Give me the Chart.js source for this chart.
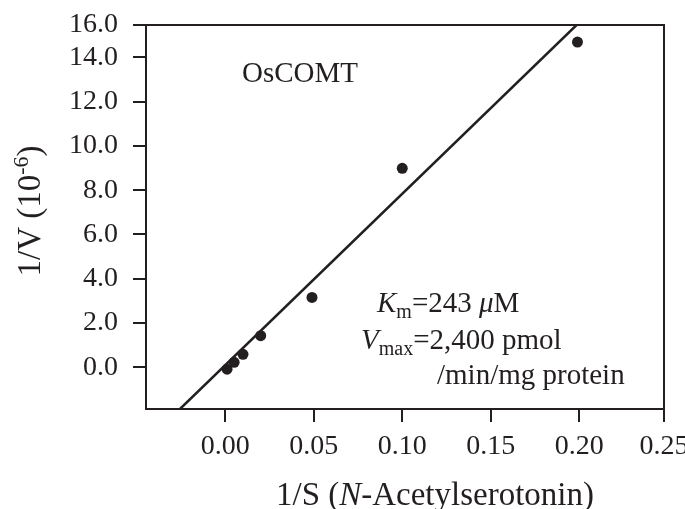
<!doctype html>
<html lang="en">
<head>
<meta charset="utf-8">
<title>OsCOMT Lineweaver-Burk</title>
<script src="https://cdn.jsdelivr.net/npm/chart.js"></script>
<style>
  html, body { margin: 0; padding: 0; background: #fff; }
  #wrap { width: 685px; height: 509px; }
</style>
</head>
<body>
<div id="wrap"><canvas id="lbChart" width="685" height="509"></canvas></div>
<script>
// measured points (1/S, 1/V)
const invS = [0.001, 0.005, 0.010, 0.020, 0.049, 0.100, 0.199];
const invV = [-0.08, 0.23, 0.59, 1.43, 3.16, 8.99, 14.69];

// fitted line, where it meets the frame
const fitX = [-0.0256, 0.1985];
const fitY = [-1.88, 15.46];

// axis ranges and ticks (the top / right ticks sit on the frame edge)
const xMin = -0.0448, xMax = 0.2479;
const yMin = -1.88, yMax = 15.46;
const xTickValues = [0, 0.05, 0.10, 0.15, 0.20, xMax];
const xTickLabels = ['0.00', '0.05', '0.10', '0.15', '0.20', '0.25'];
const yTickValues = [0, 2, 4, 6, 8, 10, 12, 14, yMax];
const yTickLabels = ['0.0', '2.0', '4.0', '6.0', '8.0', '10.0', '12.0', '14.0', '16.0'];

const ink = '#231f20';
const serif = '"Liberation Serif", "Times New Roman", serif';

// draw a run of differently styled pieces, left to right
function drawRuns(ctx, x, y, runs, align) {
    let total = 0;
    runs.forEach(r => { ctx.font = r.font; total += ctx.measureText(r.t).width; });
    let cx = align === 'center' ? x - total / 2 : x;
    runs.forEach(r => {
        ctx.font = r.font;
        ctx.fillText(r.t, cx, y + (r.dy || 0));
        cx += ctx.measureText(r.t).width;
    });
}

const textPlugin = {
    id: 'textPlugin',
    afterDraw(chart) {
        const ctx = chart.ctx;
        const a = chart.chartArea;
        ctx.save();
        // frame
        ctx.strokeStyle = ink;
        ctx.lineWidth = 2;
        ctx.strokeRect(a.left, a.top, a.right - a.left, a.bottom - a.top);

        ctx.fillStyle = ink;
        ctx.textBaseline = 'alphabetic';
        const big = '33px ' + serif;
        const mid = '29px ' + serif;
        const ital = 'italic 29px ' + serif;
        const sub = '20px ' + serif;

        // x title
        drawRuns(ctx, 435, 505, [
            { t: '1/S (', font: big },
            { t: 'N', font: 'italic 33px ' + serif },
            { t: '-Acetylserotonin)', font: big }
        ], 'center');

        // y title
        ctx.save();
        ctx.translate(40, 211);
        ctx.rotate(-Math.PI / 2);
        drawRuns(ctx, 0, 0, [
            { t: '1/V (10', font: big },
            { t: '-6', font: '22px ' + serif, dy: -12 },
            { t: ')', font: big }
        ], 'center');
        ctx.restore();

        // annotations
        drawRuns(ctx, 242, 82, [{ t: 'OsCOMT', font: mid }]);
        drawRuns(ctx, 377, 312, [
            { t: 'K', font: ital },
            { t: 'm', font: sub, dy: 6 },
            { t: '=243 ', font: mid },
            { t: 'μ', font: ital },
            { t: 'M', font: mid }
        ]);
        drawRuns(ctx, 361, 349, [
            { t: 'V', font: ital },
            { t: 'max', font: sub, dy: 6 },
            { t: '=2,400 pmol', font: mid }
        ]);
        drawRuns(ctx, 437, 384, [{ t: '/min/mg protein', font: mid }]);
        ctx.restore();
    }
};

const tickFont = { family: serif, size: 28 };

new Chart(document.getElementById('lbChart'), {
    type: 'scatter',
    data: {
        datasets: [
            {
                label: 'fit',
                data: fitX.map((x, i) => ({ x: x, y: fitY[i] })),
                showLine: true,
                borderColor: ink,
                borderWidth: 2.5,
                pointRadius: 0,
                fill: false
            },
            {
                label: 'OsCOMT',
                data: invS.map((x, i) => ({ x: x, y: invV[i] })),
                pointRadius: 5.5,
                pointBackgroundColor: ink,
                pointBorderWidth: 0,
                showLine: false
            }
        ]
    },
    options: {
        responsive: false,
        animation: false,
        layout: { padding: { left: 0, top: 25, right: 21, bottom: 0 } },
        plugins: { legend: { display: false }, tooltip: { enabled: false } },
        scales: {
            x: {
                type: 'linear',
                min: xMin,
                max: xMax,
                afterBuildTicks: axis => { axis.ticks = xTickValues.map(v => ({ value: v })); },
                afterFit: axis => { axis.height = 100; axis.paddingLeft = 0; axis.paddingRight = 0; },
                ticks: {
                    font: tickFont,
                    color: ink,
                    padding: 8,
                    maxRotation: 0,
                    autoSkip: false,
                    callback: (v, i) => xTickLabels[i]
                },
                grid: { drawOnChartArea: false, drawTicks: true, tickLength: 13, color: ink, lineWidth: 2 },
                border: { display: true, color: ink, width: 2 }
            },
            y: {
                type: 'linear',
                min: yMin,
                max: yMax,
                afterBuildTicks: axis => { axis.ticks = yTickValues.map(v => ({ value: v })); },
                afterFit: axis => { axis.width = 146; axis.paddingTop = 0; axis.paddingBottom = 0; },
                ticks: {
                    font: tickFont,
                    color: ink,
                    padding: 15,
                    autoSkip: false,
                    callback: (v, i) => yTickLabels[i]
                },
                grid: { drawOnChartArea: false, drawTicks: true, tickLength: 13, color: ink, lineWidth: 2 },
                border: { display: true, color: ink, width: 2 }
            }
        }
    },
    plugins: [textPlugin]
});
</script>
</body>
</html>
